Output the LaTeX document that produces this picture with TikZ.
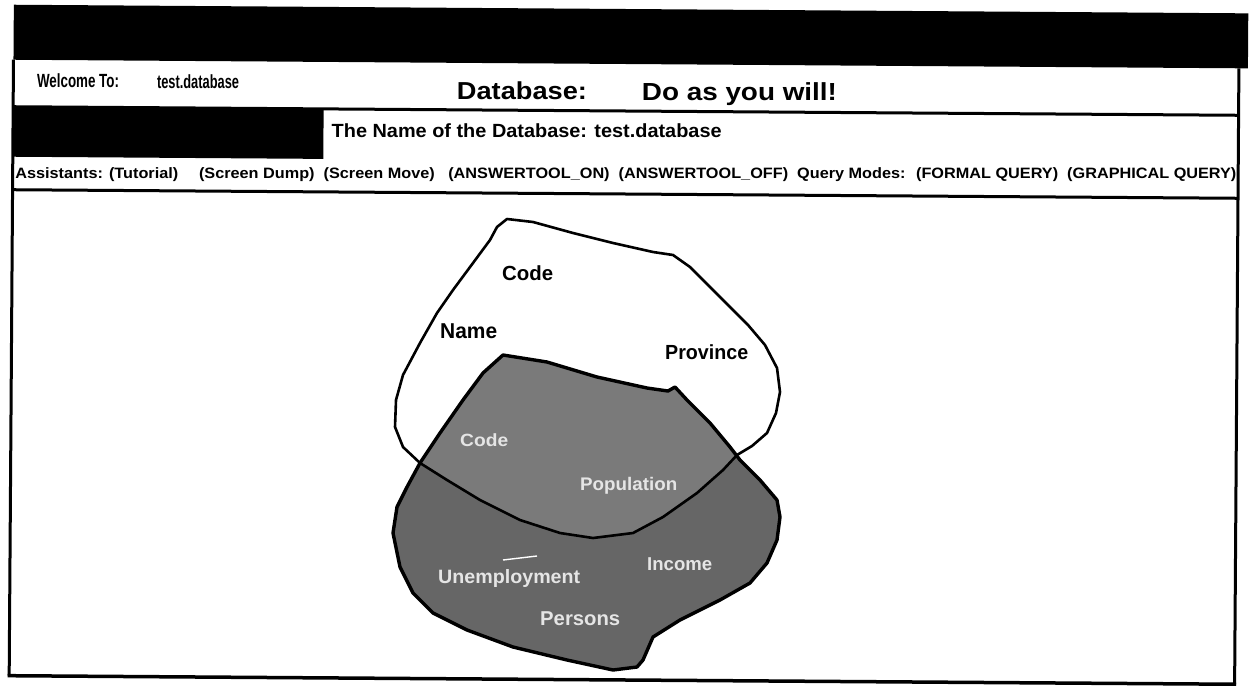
\documentclass[tikz,border=0pt]{standalone}
\usepackage{fontspec}
\setmainfont{Liberation Sans}
\usepackage{graphicx}
\newcommand{\fitbox}[3]{\resizebox*{#1pt}{#2pt}{\bfseries #3}}
\begin{document}
\begin{tikzpicture}[x=1pt,y=-1pt,
  txt/.style={inner sep=0pt, anchor=west},
  frameline/.style={line width=3pt},
  blobline/.style={line width=2.6pt, line join=round},
  graytxt/.style={txt, text=black!10}]
\useasboundingbox (0,0) rectangle (1252,685);
\fill[white] (0,0) rectangle (1252,685);
% ---------- window frame (slightly skewed scan) ----------
\begin{scope}[rotate around={-0.4:(626,342)}]
  \fill (11.5,9) rectangle (1246,64);
  \draw[frameline] (11.5,64) -- (11.5,680);
  \draw[frameline] (1237,64) -- (1237,680);
  \draw[line width=3.5pt] (10,680) -- (1238.5,680);
  \draw[frameline] (11.5,111) -- (1237,111);
  \fill (11.5,111) rectangle (322,161);
  \draw[frameline] (11.5,194) -- (1237,194);
  \node[txt] (welcome) at (35,85) {\fitbox{82}{14}{Welcome To:}};
  \node[txt] (wdb) at (155,85) {\fitbox{82}{14}{test.database}};
  \node[txt] (dblabel) at (455,92) {\fitbox{130}{18}{Database:}};
  \node[txt] (motto) at (640,94) {\fitbox{195}{23}{Do as you will!}};
  \node[txt] (dbname) at (330,133) {\fitbox{390}{14}{The Name of the Database: test.database}};
  \node[txt] (assist) at (14,179) {\fitbox{1221}{14}{Assistants: (Tutorial)\quad\ (Screen Dump)\ \ (Screen Move)\ \ \ (ANSWERTOOL\_ON)\ \ (ANSWERTOOL\_OFF)\ \ Query Modes: \ (FORMAL QUERY)\ \ (GRAPHICAL QUERY)}};
\end{scope}
% ---------- shaded class (Persons) ----------
\def\grayblob{(503,355) -- (547,362) -- (597,377) -- (647,388) -- (668,391) -- (675,387) -- (687,400) -- (710,423) -- (730,447) -- (740,460) -- (760,480) -- (777,500) -- (780,517) -- (777,540) -- (767,563) -- (750,583) -- (720,600) -- (680,620) -- (653,637) -- (643,660) -- (637,667) -- (613,670) -- (567,660) -- (513,647) -- (467,630) -- (433,613) -- (413,593) -- (400,567) -- (393,533) -- (397,507) -- (407,487) -- (420,463) -- (440,433) -- (463,400) -- (483,373) -- cycle}
\def\whiteblob{(420,463) -- (403,447) -- (395,427) -- (396,400) -- (403,375) -- (420,343) -- (437,313) -- (453,290) -- (473,263) -- (490,240) -- (497,227) -- (507,219) -- (533,222) -- (573,233) -- (613,243) -- (653,252) -- (673,255) -- (690,267) -- (710,287) -- (730,307) -- (748,325) -- (765,345) -- (777,368) -- (780,392) -- (776,413) -- (767,433) -- (752,446) -- (737,455) -- (723,470) -- (697,493) -- (663,517) -- (633,533) -- (593,538) -- (560,533) -- (520,520) -- (480,500) -- (447,480) -- cycle}
\fill[black!60] \grayblob;
\begin{scope}
  \clip \whiteblob;
  \fill[black!52] \grayblob;
\end{scope}
\draw[blobline] \whiteblob;
\draw[line width=3.4pt, line join=round] \grayblob;
% ---------- labels ----------
\node[txt] (code1) at (502,273) {\fitbox{51}{15}{Code}};
\node[txt] (name) at (440,331) {\fitbox{57}{15}{Name}};
\node[txt] (prov) at (665,352) {\fitbox{83}{15}{Province}};
\node[graytxt] (code2) at (460,440) {\fitbox{48}{13}{Code}};
\node[graytxt] (pop) at (580,486) {\fitbox{97}{17}{Population}};
\node[graytxt] (inc) at (647,564) {\fitbox{65}{13}{Income}};
\node[graytxt] (unemp) at (438,578) {\fitbox{142}{18}{Unemployment}};
\node[graytxt] (pers) at (540,619) {\fitbox{80}{14}{Persons}};
\coordinate (m1) at (503,560);
\coordinate (m2) at (537,556);
\draw[white, line width=1.4pt] (m1) -- (m2);
\end{tikzpicture}
\end{document}
